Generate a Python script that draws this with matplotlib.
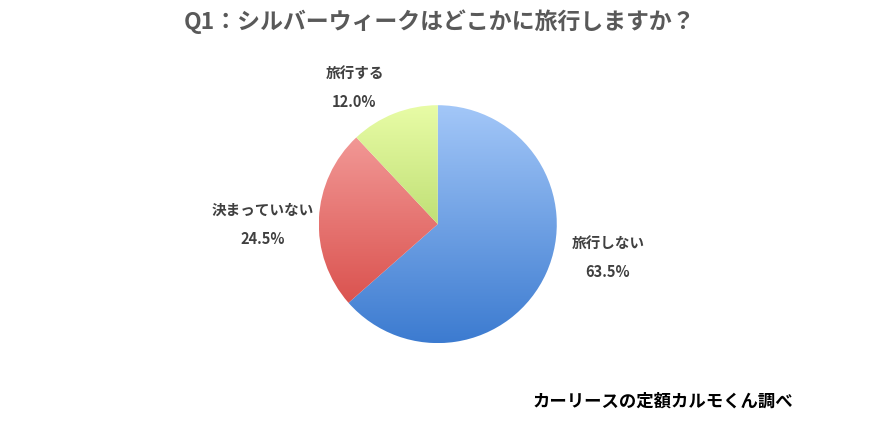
import numpy as np
import matplotlib.pyplot as plt
from matplotlib.colors import LinearSegmentedColormap

plt.rcParams['font.family'] = ['Noto Sans CJK JP', 'DejaVu Sans']

labels = ['旅行しない', '決まっていない', '旅行する']
values = [63.5, 24.5, 12.0]
tops = ['#a3c7f8', '#f6a5a3', '#e8fca6']
bottoms = ['#3c7bd0', '#d5423e', '#98c446']
# label positions (pie radius units)
label_pos = [(1.43, -0.16), (-1.47, 0.12), (-0.70, 1.27)]

fig = plt.figure(figsize=(8.88, 4.43), dpi=100)
ax = fig.add_axes([0.493 - 0.134, 0.494 - 0.2685, 0.268, 0.537])
wedges, _ = ax.pie(values, startangle=90, counterclock=False, radius=1,
                   wedgeprops=dict(linewidth=0))
grad = np.linspace(1, 0, 256).reshape(-1, 1)
for w, t, b in zip(wedges, tops, bottoms):
    w.set_facecolor('none')
    cmap = LinearSegmentedColormap.from_list('g', [b, t])
    im = ax.imshow(grad, cmap=cmap, extent=[-1, 1, -1, 1], aspect='auto',
                   origin='upper', zorder=0, vmin=0, vmax=1)
    im.set_clip_path(w)
ax.set_xlim(-1, 1)
ax.set_ylim(-1, 1)
ax.axis('off')

for lab, v, (x, y) in zip(labels, values, label_pos):
    ax.text(x, y, lab, ha='center', va='center', fontsize=10.5,
            fontweight='bold', color='#404040', clip_on=False)
    ax.text(x, y - 0.245, f'{v:.1f}%', ha='center', va='center', fontsize=10.5,
            fontweight='bold', color='#404040', clip_on=False)

fig.text(0.495, 0.95, 'Q1：シルバーウィークはどこかに旅行しますか？', ha='center',
         va='center', fontsize=16.5, fontweight='bold', color='#595959')
fig.text(0.747, 0.093, 'カーリースの定額カルモくん調べ', ha='center', va='center',
         fontsize=12.5, fontweight='bold', color='black')

fig.savefig('out.png', dpi=100)
